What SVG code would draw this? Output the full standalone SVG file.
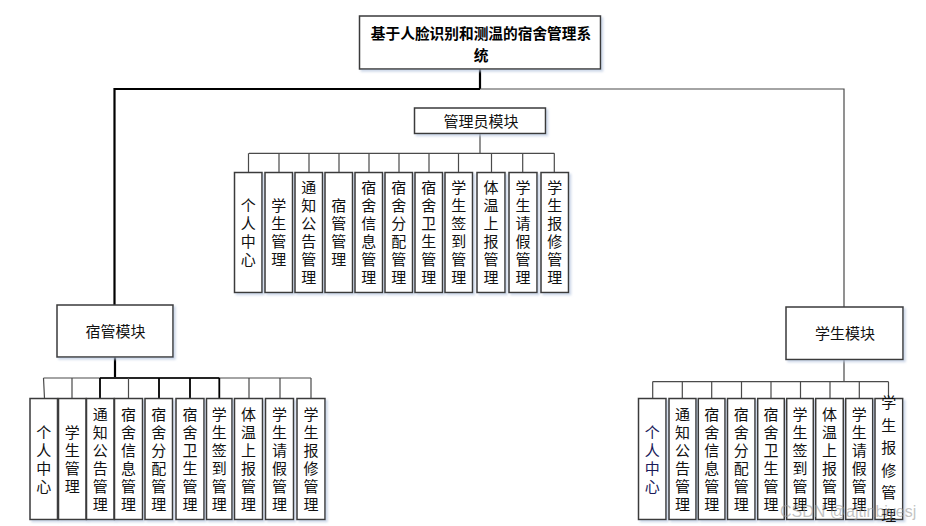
<svg xmlns="http://www.w3.org/2000/svg" width="926" height="526" viewBox="0 0 926 526">
<style>
.box{fill:#fff;stroke:#3a3a3a;stroke-width:1.5;filter:url(#sh)}
.t{font-family:"Noto Sans CJK SC","Microsoft YaHei",sans-serif;font-size:15px;fill:#111;text-anchor:middle}
.v{font-family:"Noto Sans CJK SC","Microsoft YaHei",sans-serif;font-size:15px;fill:#111;text-anchor:middle;writing-mode:vertical-rl}
.tb{font-family:"Noto Sans CJK SC","Microsoft YaHei",sans-serif;font-size:14.7px;font-weight:bold;fill:#000;text-anchor:middle}
.c{stroke:#4a4a4a;stroke-width:1.2;fill:none}
.k{stroke:#000;stroke-width:2.2;fill:none}
.wm{font-family:"Liberation Sans",Arial,sans-serif;font-size:16px;fill:#9a9a9a;fill-opacity:0.6}
</style>
<defs>
<filter id="sh" x="-20%" y="-20%" width="150%" height="150%">
<feDropShadow dx="2" dy="2" stdDeviation="1.2" flood-color="#b8c8e0" flood-opacity="0.7"/>
</filter>
</defs>
<rect width="926" height="526" fill="#fff"/>

<g id="connectors">
<path class="k" d="M480,69 V89 M114.5,89 H480 M114.5,88 V305"/>
<path class="c" d="M480,89 H844 V307"/>
<path class="c" d="M480,133.5 V153.3 M249,153.3 H554.3"/>
<path class="c" d="M248.5,153.3 V172.5 M279,153.3 V172.5 M309,153.3 V172.5 M339,153.3 V172.5 M369,153.3 V172.5 M399,153.3 V172.5 M429,153.3 V172.5 M458.5,153.3 V172.5 M491.5,153.3 V172.5 M522.7,153.3 V172.5 M554.3,153.3 V172.5"/>
<path class="k" d="M115,357 V378 M100,378 H219.3"/>
<path class="c" d="M43.5,378 H311 M43.5,378 L44.5,398.5 M72,378 V398.5 M128.5,378 V398.5 M249,378 V398.5 M280,378 V398.5 M311,378 V398.5"/>
<path class="k" style="stroke-width:1.8" d="M100,378 V398.5 M159,378 V398.5 M190,378 V398.5 M219.3,378 V398.5"/>
<path class="c" d="M844,359.5 V381.7 M652.5,381.7 H888.5 M652.7,381.7 V398.5 M682.3,381.7 V398.5 M711.7,381.7 V398.5 M741.5,381.7 V398.5 M771,381.7 V398.5 M800.5,381.7 V398.5 M830,381.7 V398.5 M859.3,381.7 V398.5 M888.5,381.7 V398.5"/>
</g>

<g id="root">
<rect class="box" x="359.5" y="16" width="241" height="53"/>
<text class="tb" x="481" y="39">基于人脸识别和测温的宿舍管理系</text>
<text class="tb" x="481" y="60.5">统</text>
</g>

<g id="admin">
<rect class="box" x="414.5" y="108" width="131" height="25.5"/>
<text class="t" x="481" y="126.5">管理员模块</text>
</g>
<g id="dorm">
<rect class="box" x="57" y="305" width="116" height="52"/>
<text class="t" x="115.5" y="337">宿管模块</text>
</g>
<g id="student">
<rect class="box" x="786" y="307" width="117" height="52.5"/>
<text class="t" x="845" y="338.5">学生模块</text>
</g>

<!-- admin children -->
<g id="a1"><rect class="box" x="234.5" y="172.5" width="27.5" height="120"/><text class="v" x="248.2" y="205.5">个</text><text class="v" x="248.2" y="223.5">人</text><text class="v" x="248.2" y="241.5">中</text><text class="v" x="248.2" y="259.5">心</text></g>
<g id="a2"><rect class="box" x="265" y="172.5" width="27.5" height="120"/><text class="v" x="278.8" y="205.5">学</text><text class="v" x="278.8" y="223.5">生</text><text class="v" x="278.8" y="241.5">管</text><text class="v" x="278.8" y="259.5">理</text></g>
<g id="a3"><rect class="box" x="295" y="172.5" width="27.5" height="120"/><text class="v" x="308.7" y="187.5">通</text><text class="v" x="308.7" y="205.5">知</text><text class="v" x="308.7" y="223.5">公</text><text class="v" x="308.7" y="241.5">告</text><text class="v" x="308.7" y="259.5">管</text><text class="v" x="308.7" y="277.5">理</text></g>
<g id="a4"><rect class="box" x="325" y="172.5" width="27.5" height="120"/><text class="v" x="338.7" y="205.5">宿</text><text class="v" x="338.7" y="223.5">管</text><text class="v" x="338.7" y="241.5">管</text><text class="v" x="338.7" y="259.5">理</text></g>
<g id="a5"><rect class="box" x="355" y="172.5" width="27.5" height="120"/><text class="v" x="368.7" y="187.5">宿</text><text class="v" x="368.7" y="205.5">舍</text><text class="v" x="368.7" y="223.5">信</text><text class="v" x="368.7" y="241.5">息</text><text class="v" x="368.7" y="259.5">管</text><text class="v" x="368.7" y="277.5">理</text></g>
<g id="a6"><rect class="box" x="385" y="172.5" width="27.5" height="120"/><text class="v" x="398.8" y="187.5">宿</text><text class="v" x="398.8" y="205.5">舍</text><text class="v" x="398.8" y="223.5">分</text><text class="v" x="398.8" y="241.5">配</text><text class="v" x="398.8" y="259.5">管</text><text class="v" x="398.8" y="277.5">理</text></g>
<g id="a7"><rect class="box" x="415" y="172.5" width="27.5" height="120"/><text class="v" x="428.7" y="187.5">宿</text><text class="v" x="428.7" y="205.5">舍</text><text class="v" x="428.7" y="223.5">卫</text><text class="v" x="428.7" y="241.5">生</text><text class="v" x="428.7" y="259.5">管</text><text class="v" x="428.7" y="277.5">理</text></g>
<g id="a8"><rect class="box" x="445" y="172.5" width="27.5" height="120"/><text class="v" x="458.7" y="187.5">学</text><text class="v" x="458.7" y="205.5">生</text><text class="v" x="458.7" y="223.5">签</text><text class="v" x="458.7" y="241.5">到</text><text class="v" x="458.7" y="259.5">管</text><text class="v" x="458.7" y="277.5">理</text></g>
<g id="a9"><rect class="box" x="477" y="172.5" width="28" height="120"/><text class="v" x="491" y="187.5">体</text><text class="v" x="491" y="205.5">温</text><text class="v" x="491" y="223.5">上</text><text class="v" x="491" y="241.5">报</text><text class="v" x="491" y="259.5">管</text><text class="v" x="491" y="277.5">理</text></g>
<g id="a10"><rect class="box" x="509" y="172.5" width="28" height="120"/><text class="v" x="523" y="187.5">学</text><text class="v" x="523" y="205.5">生</text><text class="v" x="523" y="223.5">请</text><text class="v" x="523" y="241.5">假</text><text class="v" x="523" y="259.5">管</text><text class="v" x="523" y="277.5">理</text></g>
<g id="a11"><rect class="box" x="541" y="172.5" width="27.5" height="120"/><text class="v" x="554.7" y="187.5">学</text><text class="v" x="554.7" y="205.5">生</text><text class="v" x="554.7" y="223.5">报</text><text class="v" x="554.7" y="241.5">修</text><text class="v" x="554.7" y="259.5">管</text><text class="v" x="554.7" y="277.5">理</text></g>

<!-- dorm manager children -->
<g id="d1"><rect class="box" x="30" y="398.5" width="27.5" height="121"/><text class="v" x="43.8" y="432">个</text><text class="v" x="43.8" y="450">人</text><text class="v" x="43.8" y="468">中</text><text class="v" x="43.8" y="486">心</text></g>
<g id="d2"><rect class="box" x="58.5" y="398.5" width="27.5" height="121"/><text class="v" x="72.3" y="432">学</text><text class="v" x="72.3" y="450">生</text><text class="v" x="72.3" y="468">管</text><text class="v" x="72.3" y="486">理</text></g>
<g id="d3"><rect class="box" x="86.5" y="398.5" width="27.5" height="121"/><text class="v" x="100.3" y="414">通</text><text class="v" x="100.3" y="432">知</text><text class="v" x="100.3" y="450">公</text><text class="v" x="100.3" y="468">告</text><text class="v" x="100.3" y="486">管</text><text class="v" x="100.3" y="504">理</text></g>
<g id="d4"><rect class="box" x="114.5" y="398.5" width="28" height="121"/><text class="v" x="128.5" y="414">宿</text><text class="v" x="128.5" y="432">舍</text><text class="v" x="128.5" y="450">信</text><text class="v" x="128.5" y="468">息</text><text class="v" x="128.5" y="486">管</text><text class="v" x="128.5" y="504">理</text></g>
<g id="d5"><rect class="box" x="145" y="398.5" width="27.5" height="121"/><text class="v" x="158.8" y="414">宿</text><text class="v" x="158.8" y="432">舍</text><text class="v" x="158.8" y="450">分</text><text class="v" x="158.8" y="468">配</text><text class="v" x="158.8" y="486">管</text><text class="v" x="158.8" y="504">理</text></g>
<g id="d6"><rect class="box" x="176" y="398.5" width="28" height="121"/><text class="v" x="190" y="414">宿</text><text class="v" x="190" y="432">舍</text><text class="v" x="190" y="450">卫</text><text class="v" x="190" y="468">生</text><text class="v" x="190" y="486">管</text><text class="v" x="190" y="504">理</text></g>
<g id="d7"><rect class="box" x="206.5" y="398.5" width="25.5" height="121"/><text class="v" x="219.3" y="414">学</text><text class="v" x="219.3" y="432">生</text><text class="v" x="219.3" y="450">签</text><text class="v" x="219.3" y="468">到</text><text class="v" x="219.3" y="486">管</text><text class="v" x="219.3" y="504">理</text></g>
<g id="d8"><rect class="box" x="234.5" y="398.5" width="28" height="121"/><text class="v" x="248.5" y="414">体</text><text class="v" x="248.5" y="432">温</text><text class="v" x="248.5" y="450">上</text><text class="v" x="248.5" y="468">报</text><text class="v" x="248.5" y="486">管</text><text class="v" x="248.5" y="504">理</text></g>
<g id="d9"><rect class="box" x="265.5" y="398.5" width="28" height="121"/><text class="v" x="279.5" y="414">学</text><text class="v" x="279.5" y="432">生</text><text class="v" x="279.5" y="450">请</text><text class="v" x="279.5" y="468">假</text><text class="v" x="279.5" y="486">管</text><text class="v" x="279.5" y="504">理</text></g>
<g id="d10"><rect class="box" x="297" y="398.5" width="28" height="121"/><text class="v" x="311" y="414">学</text><text class="v" x="311" y="432">生</text><text class="v" x="311" y="450">报</text><text class="v" x="311" y="468">修</text><text class="v" x="311" y="486">管</text><text class="v" x="311" y="504">理</text></g>

<!-- student children -->
<g id="s1"><rect class="box" x="638.5" y="398.5" width="27.5" height="121"/><text class="v" style="fill:#1a1a5a" x="652.3" y="432">个</text><text class="v" style="fill:#1a1a5a" x="652.3" y="450">人</text><text class="v" style="fill:#1a1a5a" x="652.3" y="468">中</text><text class="v" style="fill:#1a1a5a" x="652.3" y="486">心</text></g>
<g id="s2"><rect class="box" x="669" y="398.5" width="27" height="121"/><text class="v" x="682.5" y="414">通</text><text class="v" x="682.5" y="432">知</text><text class="v" x="682.5" y="450">公</text><text class="v" x="682.5" y="468">告</text><text class="v" x="682.5" y="486">管</text><text class="v" x="682.5" y="504">理</text></g>
<g id="s3"><rect class="box" x="698.3" y="398.5" width="26.7" height="121"/><text class="v" x="711.7" y="414">宿</text><text class="v" x="711.7" y="432">舍</text><text class="v" x="711.7" y="450">信</text><text class="v" x="711.7" y="468">息</text><text class="v" x="711.7" y="486">管</text><text class="v" x="711.7" y="504">理</text></g>
<g id="s4"><rect class="box" x="727.5" y="398.5" width="27.5" height="121"/><text class="v" x="741.3" y="414">宿</text><text class="v" x="741.3" y="432">舍</text><text class="v" x="741.3" y="450">分</text><text class="v" x="741.3" y="468">配</text><text class="v" x="741.3" y="486">管</text><text class="v" x="741.3" y="504">理</text></g>
<g id="s5"><rect class="box" x="757.7" y="398.5" width="26.6" height="121"/><text class="v" x="771" y="414">宿</text><text class="v" x="771" y="432">舍</text><text class="v" x="771" y="450">卫</text><text class="v" x="771" y="468">生</text><text class="v" x="771" y="486">管</text><text class="v" x="771" y="504">理</text></g>
<g id="s6"><rect class="box" x="786.7" y="398.5" width="26.6" height="121"/><text class="v" x="800" y="414">学</text><text class="v" x="800" y="432">生</text><text class="v" x="800" y="450">签</text><text class="v" x="800" y="468">到</text><text class="v" x="800" y="486">管</text><text class="v" x="800" y="504">理</text></g>
<g id="s7"><rect class="box" x="815.7" y="398.5" width="27.6" height="121"/><text class="v" x="829.5" y="414">体</text><text class="v" x="829.5" y="432">温</text><text class="v" x="829.5" y="450">上</text><text class="v" x="829.5" y="468">报</text><text class="v" x="829.5" y="486">管</text><text class="v" x="829.5" y="504">理</text></g>
<g id="s8"><rect class="box" x="845.7" y="398.5" width="27" height="121"/><text class="v" x="859.2" y="414">学</text><text class="v" x="859.2" y="432">生</text><text class="v" x="859.2" y="450">请</text><text class="v" x="859.2" y="468">假</text><text class="v" x="859.2" y="486">管</text><text class="v" x="859.2" y="504">理</text></g>
<g id="s9"><rect class="box" x="875" y="398.5" width="27.7" height="121"/><text class="v" x="888.8" y="402.8">学</text><text class="v" x="888.8" y="425.3">生</text><text class="v" x="888.8" y="447.8">报</text><text class="v" x="888.8" y="470.3">修</text><text class="v" x="888.8" y="492.8">管</text><text class="v" x="888.8" y="515.3">理</text></g>

<text class="wm" x="780" y="517">CSDN @ajtinbiyesj</text>
</svg>
